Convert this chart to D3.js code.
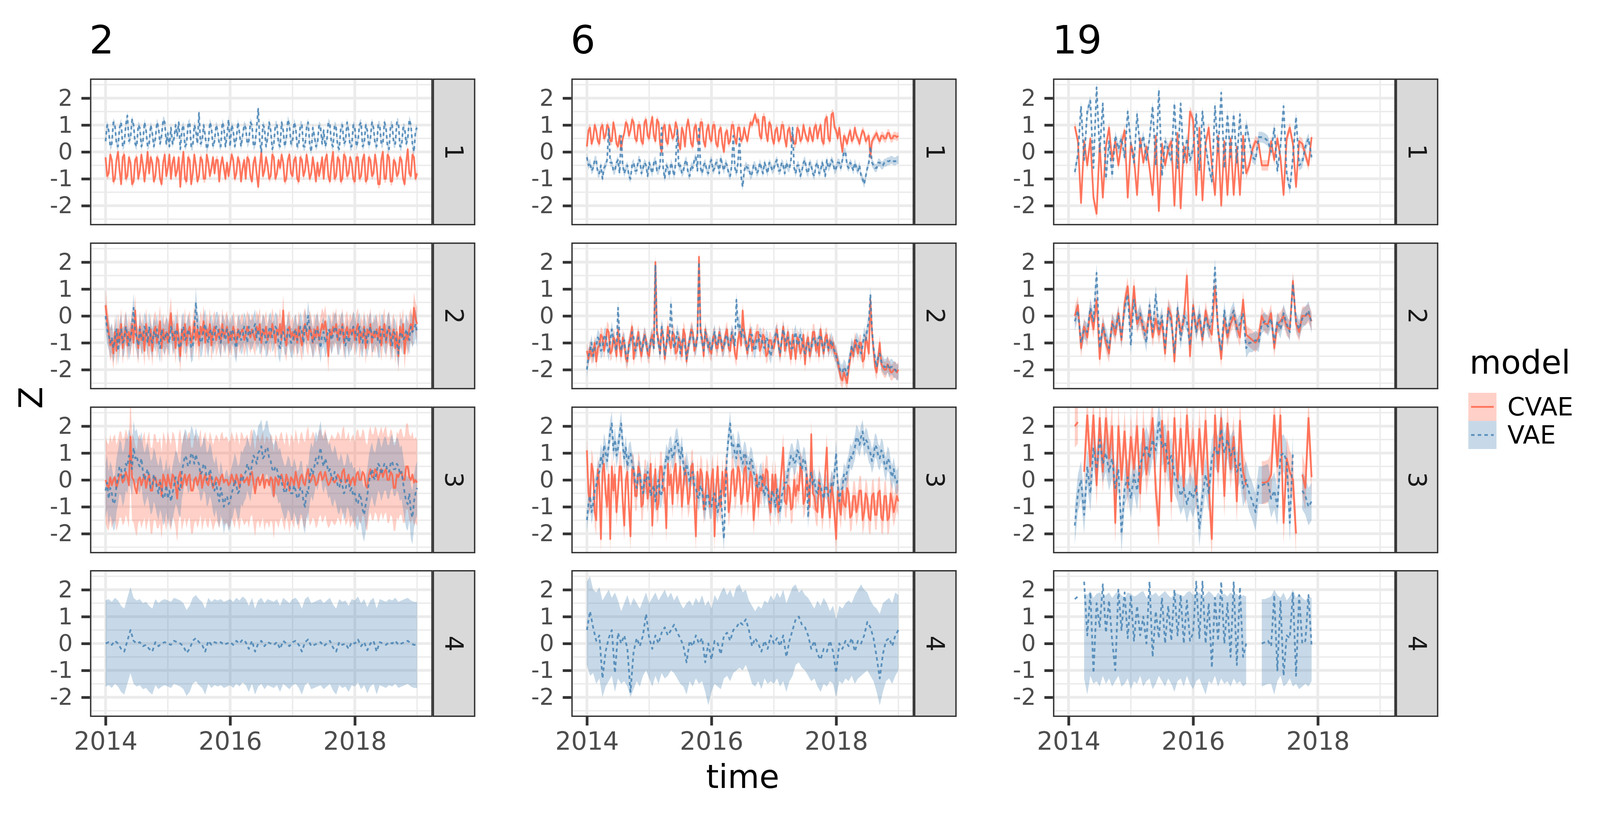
<!DOCTYPE html>
<html>
<head>
<meta charset="utf-8">
<script src="https://cdn.jsdelivr.net/npm/d3@7"></script>
<style>
  html, body { margin: 0; padding: 0; background: #fff; overflow: hidden; }
  svg { display: block; }
  text { font-family: "DejaVu Sans", sans-serif; }
</style>
</head>
<body>
<svg id="chart"></svg>
<script>
// ---------------- data ----------------
const groups = ["2", "6", "19"];
const dims = ["1", "2", "3", "4"];
const models = ["CVAE", "VAE"];
const yTicks = [-2, -1, 0, 1, 2];
const yMinor = [-2.5, -1.5, -0.5, 0.5, 1.5, 2.5];
const xTickYears = [2014, 2016, 2018];
const xMinorYears = [2015, 2017, 2019];
const groupStart = [2014.0, 2014.0, 2014.1];   // first sample of each group (decimal year)
const fineStep = 0.025;                        // years between samples, dense latents
const sampleStep = 0.05;                       // years between samples, other latents

// group 2 (2014.0 - 2019.0)
const g2_d1_cvae = [
  -0.2, -0.9, -0.8, -0.1, -0.3, -1.1, -1.0, -0.3, 0.0, -0.7, -1.2, -0.2, -0.1, -1.0, -0.9, -0.2, -0.4, -1.2, -1.1, -0.3,
  -0.2, -1.0, -0.7, -0.1, -0.5, -1.1, -0.6, 0.0, -0.8, -0.2, -0.4, -1.1, -0.9, -0.2, -0.3, -1.0, -1.2, -0.4, -0.1, -0.9,
  -0.6, -0.1, -1.0, -0.4, -0.2, -0.9, -0.7, -0.2, -1.3, -0.5, 0.0, -1.0, -1.1, -0.2, -0.3, -1.2, -0.8, -0.1, -0.5, -1.1,
  -0.9, -0.2, -0.3, -1.0, -1.0, -0.1, -0.4, -0.9, -0.6, -0.2, -0.8, -0.3, -0.3, -1.1, -0.5, -0.2, -0.6, -1.0, -0.4, -0.9,
  -0.5, -0.1, -0.3, -1.0, -0.8, -0.2, -0.4, -1.1, -0.6, -0.3, -1.0, -0.2, -0.3, -0.9, -1.1, -0.4, -0.2, -0.8, -1.3, -0.5,
  0.0, -0.9, -0.7, -0.2, -0.5, -1.0, -0.9, -0.1, -0.2, -1.0, -0.8, -0.3, -0.6, -0.1, -0.4, -1.1, -1.0, -0.3, -0.1, -0.8,
  -0.9, -0.3, -0.2, -1.0, -1.1, -0.2, -0.3, -0.9, -0.7, -0.1, -0.5, -1.0, -0.8, -0.2, -0.6, -1.1, -0.4, -0.9, -0.6, -0.2,
  -1.0, -0.3, -0.1, -0.9, -1.1, -0.4, 0.0, -1.0, -0.9, -0.2, -0.3, -1.1, -1.0, -0.1, -0.2, -0.9, -0.8, -0.2, -0.4, -1.0,
  -1.1, -0.2, -0.2, -1.0, -0.9, -0.3, -0.1, -1.1, -1.0, -0.2, -0.3, -0.9, -0.8, -0.1, -0.5, -1.2, -1.2, -0.3, 0.0, -1.0,
  -1.0, -0.1, -0.2, -1.1, -1.1, -0.3, -0.4, -0.9, -0.8, -0.2, -0.3, -1.0, -1.2, -0.4, 0.1, -0.8, -0.9, -0.1, -0.2, -1.0,
  -0.8];
const g2_d1_vae = [
  0.4, 1.0, 0.8, 0.2, 0.3, 1.1, 1.0, 0.3, 0.2, 0.9, 1.1, 0.2, 0.3, 1.0, 1.35, 0.4, 0.5, 1.2, 1.0, 0.3,
  0.2, 1.0, 0.9, 0.2, 0.4, 1.1, 0.8, 0.2, 0.3, 1.0, 0.7, 0.2, 0.5, 1.1, 0.9, 0.3, 0.6, 1.2, 1.1, 0.3,
  0.7, 0.2, 0.9, 0.3, 0.5, 1.0, 0.6, 1.1, 0.1, 0.8, 1.0, 0.2, 0.3, 1.0, 1.1, 0.2, 0.2, 1.0, 0.8, 0.3,
  1.45, 0.3, 0.4, 1.0, 0.6, 0.1, 0.3, 1.1, 0.9, 0.2, 0.4, 1.0, 0.8, 0.3, 0.2, 1.1, 0.9, 0.2, 0.6, 1.2,
  0.2, 1.0, 0.8, 0.2, 0.5, 1.1, 0.7, 0.2, 0.6, 1.0, 0.9, 0.3, 0.4, 1.1, 1.0, 0.2, 0.3, 0.9, 1.6, 0.4,
  0.0, 1.0, 0.9, 0.2, 0.5, 1.1, 0.8, 0.1, 0.3, 1.0, 1.0, 0.3, 0.2, 1.1, 0.8, 0.2, 0.5, 1.2, 1.0, 0.3,
  0.4, 1.1, 0.9, 0.2, 0.3, 1.0, 1.0, 0.2, 0.2, 0.9, 1.1, 0.3, 0.0, 0.9, 0.6, 0.2, 0.3, 1.0, 0.9, 0.3,
  0.8, 0.2, 0.4, 1.1, 1.0, 0.3, 0.2, 1.0, 0.9, 0.2, 0.1, 0.9, 1.0, 0.3, 0.4, 1.1, 0.8, 0.2, 0.2, 1.0,
  0.9, 0.2, 0.4, 1.0, 1.1, 0.2, 0.3, 1.0, 0.8, 0.2, 0.5, 1.1, 0.9, 0.3, 0.2, 1.0, 1.0, 0.3, 0.3, 1.1,
  0.9, 0.2, 0.1, 1.0, 1.0, 0.3, 0.3, 1.1, 1.1, 0.2, 0.2, 0.9, 0.9, 0.3, 0.5, 1.2, 1.0, 0.3, 0.0, 0.8,
  0.9];
const g2_d2_cvae = [
  0.4, -0.2, -0.6, -1.1, -0.9, -1.4, -0.6, -1.3, -0.5, -1.0, -0.3, -1.2, -0.7, -0.4, -1.1, -0.6, -0.9, -0.3, -1.0, 0.2,
  -0.8, -1.2, -0.4, -0.9, -0.6, -1.3, -0.3, -0.8, -1.1, -0.5, -1.3, -0.6, -0.4, -1.0, -0.7, -0.2, -1.2, -0.5, -0.9, -0.6,
  -1.0, -0.4, 0.1, -0.9, -0.6, -1.2, -0.3, -0.8, -1.5, -0.5, -0.9, -0.3, -1.1, -0.6, -0.4, -1.0, -0.7, -0.2, -0.9, -0.5,
  -1.1, -0.4, -0.7, -0.2, -1.0, -0.5, -0.8, -0.3, -1.1, -0.6, -0.4, -0.9, -0.7, -0.5, -1.0, -0.3, -0.8, -0.6, -0.4, -1.0,
  -0.6, -0.9, -0.4, -0.7, -1.0, -0.5, -0.8, -0.6, -0.5, -0.9, -0.7, -0.4, -0.6, -0.8, -0.5, -0.7, -0.9, -0.4, -0.6, -0.3,
  -1.0, -0.5, -0.7, -0.4, -0.9, -0.6, -0.8, -0.3, -0.6, -1.0, -0.5, -0.7, -0.3, -0.9, 0.2, -0.8, -1.1, -0.5, -0.4, -0.8,
  -0.6, -0.9, -0.5, -1.0, -0.4, -0.8, -1.1, -0.5, -0.3, -0.7, -0.9, -0.4, -0.6, -1.0, -0.5, -0.8, -0.4, -0.9, -0.6, -0.3,
  -0.5, -0.2, -0.7, -1.5, -0.5, -0.8, -0.4, -0.6, -0.3, -0.9, -0.5, -0.7, -0.3, -1.0, -0.6, -0.4, -0.8, -0.5, -0.7, -0.4,
  -0.9, -0.5, -0.3, -1.0, -0.6, -0.8, -0.4, -1.2, -0.5, -0.7, -0.3, -1.0, -0.6, -0.8, -0.5, -0.9, -0.4, -1.1, -0.6, -0.3,
  -1.0, -0.6, -0.4, -1.1, -0.7, -0.5, -1.2, -0.6, -1.5, -0.4, -0.8, -0.3, -1.4, -0.6, -0.9, -0.5, -0.3, -0.6, 0.3, -0.1,
  -0.3];
const g2_d2_vae = [
  0.0, -0.5, -0.7, -1.0, -0.8, -1.2, -0.9, -0.5, -1.3, -0.7, -0.5, -1.0, -0.9, -0.4, -0.7, -1.1, -0.8, -0.5, 0.3, -0.6,
  -0.8, -1.1, -0.5, -0.8, -0.9, -0.4, -0.6, -1.0, -0.4, -0.8, -1.0, -0.6, -0.8, -0.5, -0.9, -1.2, -0.5, -0.8, -0.9, -0.6,
  -0.7, -1.0, -0.4, -0.7, -0.9, -0.5, -0.6, -1.1, -1.2, -0.6, -0.4, -0.9, -0.8, -0.5, -0.7, -1.2, -1.1, -0.6, 0.5, -0.4,
  -0.6, -1.0, -0.9, -0.5, -0.3, -0.8, -1.0, -0.6, -0.5, -0.9, -0.7, -0.4, -0.4, -0.8, -1.0, -0.5, -0.6, -0.9, -0.5, -0.7,
  -0.9, -0.5, -0.6, -1.0, -1.2, -0.6, -0.5, -0.9, -0.8, -0.4, -0.6, -1.0, -0.4, -0.7, -0.7, -0.5, -0.3, -0.8, -0.5, -0.9,
  -0.8, -0.5, -0.6, -1.0, -0.9, -0.5, -0.4, -0.8, -0.7, -0.4, -0.5, -1.0, -1.2, -0.6, -0.6, -0.9, -0.9, -0.5, -0.7, -1.0,
  -1.0, -0.6, -0.5, -0.9, -0.8, -0.4, -0.6, -1.0, -0.3, -0.6, 0.0, -0.5, -0.7, -1.0, -0.9, -0.5, -0.5, -0.8, -1.2, -0.7,
  -0.6, -1.0, -0.8, -0.5, -0.6, -0.9, -0.7, -0.4, -0.5, -0.9, -0.9, -0.5, -0.4, -0.8, -1.1, -0.6, -1.0, -0.8, -0.7, -0.4,
  -0.5, -0.9, -0.6, -0.4, -0.9, -1.0, -0.5, -0.7, -1.0, -0.6, -0.4, -0.8, -0.8, -0.5, -0.6, -1.0, -1.0, -0.5, -0.5, -0.8,
  -0.9, -0.5, -0.4, -0.8, -1.1, -0.6, -0.7, -1.0, -1.4, -0.7, -0.6, -0.9, -0.8, -0.5, -0.7, -0.9, -0.4, -0.6, -0.5, -0.3,
  -0.6];
const g2_d3_cvae = [
  0.0, -0.2, -0.3, 0.1, -0.2, 0.0, 0.1, -0.3, -0.1, 0.2, 0.2, -0.1, 0.0, 0.3, 0.1, -0.2, 1.6, 0.1, 0.0, -0.3,
  -0.5, 0.0, 0.1, -0.2, 0.0, 0.2, -0.3, 0.0, 0.2, -0.4, -0.4, 0.1, 0.1, -0.2, -0.2, 0.0, -0.6, 0.2, 0.0, -0.3,
  0.2, -0.1, -0.3, 0.2, 0.1, -0.2, -0.7, 0.1, 0.3, -0.3, 0.0, 0.2, -0.2, 0.1, 0.2, -0.4, -0.4, 0.0, 0.1, -0.2,
  0.0, 0.3, -0.3, 0.0, 0.2, -0.1, -0.2, 0.2, 0.0, -0.3, -0.1, 0.1, 0.0, -0.2, 0.1, 0.2, -0.1, 0.0, 0.0, -0.2,
  -0.1, 0.2, 0.0, -0.2, 0.2, 0.0, -0.3, 0.2, 0.1, -0.1, 0.0, 0.1, -0.2, 0.2, 0.3, -0.1, -0.5, 0.0, 0.1, -0.2,
  0.0, 0.2, -0.3, 0.0, 0.0, -0.2, 0.1, 0.0, -0.6, 0.1, 0.0, -0.2, 0.1, 0.2, -0.1, -0.3, 0.2, 0.0, -0.4, 0.1,
  0.0, -0.2, 0.3, 0.0, -0.3, 0.1, 0.2, -0.1, -0.2, 0.2, 0.4, -0.1, 0.0, 0.2, 0.1, -0.2, -0.1, 0.2, 0.3, 0.0,
  0.1, 0.3, 0.0, -0.2, -0.1, 0.1, 0.0, -0.1, 0.0, 0.2, 0.1, -0.1, 0.3, 0.4, -0.1, 0.0, 0.2, -0.2, 0.0, 0.1,
  -0.2, 0.2, 0.3, 0.0, 0.0, 0.3, 0.2, -0.2, -0.3, 0.2, 0.4, 0.1, 0.1, 0.4, 0.3, 0.0, 0.2, 0.4, 0.1, 0.3,
  0.4, 0.0, 0.0, 0.3, 0.2, -0.3, -0.3, 0.2, 0.1, 0.3, 0.3, 0.0, 0.0, 0.5, 0.5, 0.1, 0.0, 0.2, -0.1, 0.0,
  -0.1];
const g2_d3_vae = [
  -0.4, -0.1, -0.7, -0.3, -0.5, -0.9, -0.8, -0.2, 0.1, 0.5, 0.4, 0.0, 0.2, 0.6, 0.5, 0.9, 0.7, 0.4, 1.2, 0.8,
  0.9, 0.6, 0.5, 0.8, 0.3, 0.0, 0.2, 0.4, 0.1, -0.3, -0.2, 0.2, 0.0, -0.3, -0.5, -0.1, -0.3, -0.7, -0.6, -0.2,
  -0.7, -0.4, -0.8, -0.5, -0.2, 0.1, 0.0, -0.3, -0.4, 0.3, 0.6, 0.9, 0.8, 0.5, 0.6, 1.0, 0.9, 0.6, 0.95, 0.7,
  0.6, 0.2, 0.3, 0.6, 0.5, 0.0, 0.1, 0.4, 0.2, -0.2, -0.4, -0.1, -0.5, -0.8, -0.3, -0.6, -1.0, -0.7, -0.6, -0.9,
  -0.8, -0.5, -0.3, 0.0, -0.2, -0.5, -0.4, 0.1, 0.0, 0.2, 0.3, 0.6, 0.4, 0.2, 0.6, 0.9, 0.8, 0.6, 1.0, 1.1,
  1.25, 0.8, 0.9, 1.2, 1.2, 0.8, 0.7, 0.4, 0.3, 0.5, 0.4, 0.1, 0.2, -0.1, -0.3, -0.5, -0.4, -0.1, -0.2, -0.5,
  -0.5, -0.2, -0.4, -0.7, -0.6, -0.3, -0.3, -0.8, -1.0, -0.4, -0.5, 0.1, 0.4, 0.2, 0.5, 0.8, 0.6, 0.9, 1.2, 0.7,
  0.5, 0.8, 0.6, 0.3, 0.4, 0.1, 0.0, 0.3, 0.1, -0.2, -0.3, 0.0, -0.2, -0.5, -0.4, 0.0, -0.1, -0.4, -0.3, -0.6,
  -0.5, -0.8, -0.9, -0.5, -0.7, -1.1, -1.3, -0.9, -0.6, -0.1, 0.2, 0.4, 0.1, 0.0, 0.3, 0.6, 0.5, 0.2, 0.4, 0.6,
  0.6, 0.3, 0.3, 0.6, 0.7, 0.4, 0.4, 0.6, 0.5, 0.2, 0.3, -0.1, -0.5, -0.8, -0.9, -0.5, -1.2, -1.4, -0.8, -0.5,
  -0.3];
const g2_d4_vae = [
  0.0, 0.05, -0.05, 0.1, 0.0, -0.2, -0.3, 0.1, 0.5, 0.1, 0.0, 0.05, -0.1, -0.05, -0.2, -0.3, 0.05, -0.1, 0.0, 0.05,
  0.0, -0.05, 0.1, 0.05, 0.0, -0.1, -0.35, -0.2, 0.1, 0.2, 0.05, -0.05, -0.3, 0.1, -0.05, 0.05, 0.0, 0.05, -0.05, 0.0,
  0.05, -0.05, 0.1, 0.0, 0.15, 0.05, -0.2, 0.1, -0.3, 0.0, 0.1, -0.1, 0.05, 0.0, -0.05, 0.05, -0.2, 0.1, 0.0, -0.1,
  0.05, 0.1, -0.05, -0.3, 0.05, 0.15, -0.1, -0.05, 0.0, 0.05, -0.1, 0.0, 0.1, -0.15, -0.3, 0.05, -0.05, 0.0, -0.2, 0.05,
  0.0, 0.15, -0.1, 0.05, -0.25, 0.0, 0.1, -0.3, 0.05, 0.0, -0.05, 0.05, 0.0, 0.1, -0.05, 0.0, 0.05, 0.1, 0.0, -0.05,
  -0.05];

// group 6 (2014.0 - 2019.0)
const g6_d1_cvae = [
  0.2, 0.8, 0.9, 0.3, 0.5, 1.0, 0.8, 0.4, 0.3, 0.9, 1.0, 0.5, 0.6, 1.0, 0.9, 0.4, 0.4, 1.1, 0.8, 0.3,
  0.2, 0.6, 0.1, 0.5, 0.7, 1.1, 1.0, 0.6, 0.8, 1.2, 1.1, 0.5, 0.4, 1.0, 1.0, 0.4, 0.3, 1.1, 1.2, 0.6,
  0.5, 1.0, 1.3, 0.6, 0.4, 1.2, 1.1, 0.3, 0.0, 0.9, 1.0, 0.4, 0.3, 1.0, 0.8, 0.5, 0.6, 1.1, 0.9, 0.3,
  0.1, 0.9, 0.7, 0.2, 0.9, 1.2, 0.8, 0.3, 0.2, 0.9, 1.0, 0.4, 0.3, 1.1, 1.1, 0.4, 0.2, 0.8, 1.0, 0.5,
  0.4, 1.0, 1.0, 0.3, 0.2, 0.8, 0.9, 0.3, 0.0, 0.7, 0.8, 0.3, 0.4, 1.0, 1.0, 0.5, 0.3, 0.9, 0.9, 0.4,
  0.5, 0.9, 0.6, 0.4, 0.8, 1.1, 1.0, 1.2, 1.4, 1.1, 1.2, 0.6, 0.5, 1.3, 1.3, 0.7, 0.4, 1.1, 1.0, 0.5,
  0.3, 0.8, 0.9, 0.4, 0.5, 1.0, 1.0, 0.5, 0.2, 0.8, 0.9, 0.4, 0.6, 0.3, 0.3, 0.9, 0.8, 0.4, 0.5, 1.0,
  0.7, 0.5, 0.4, 0.9, 0.6, 0.4, 0.9, 1.0, 0.5, 0.8, 1.0, 0.4, 0.3, 1.2, 1.3, 0.5, 0.4, 1.4, 1.45, 0.9,
  0.8, 0.5, 0.9, 0.4, 0.0, 0.6, 0.5, 0.3, 0.6, 0.8, 0.4, 0.5, 0.9, 0.6, 0.5, 0.3, 0.6, 0.8, 0.7, 0.4,
  0.5, 0.6, -0.2, 0.4, 0.5, 0.6, 0.7, 0.5, 0.4, 0.6, 0.6, 0.5, 0.5, 0.7, 0.7, 0.5, 0.5, 0.6, 0.6, 0.55,
  0.6];
const g6_d1_vae = [
  -0.2, -0.5, -0.4, -0.7, -0.6, -0.3, -0.3, -0.8, -0.8, -0.5, -1.0, -0.6, -0.5, -0.3, 0.85, -0.4, -0.4, -0.7, -0.7, -0.4,
  -0.3, -0.8, 0.6, -0.5, -0.8, -0.6, -0.5, -0.9, -1.0, -0.5, -0.4, -0.7, -0.7, -0.3, -0.3, -0.8, -0.6, -0.4, -0.5, -0.9,
  -0.4, -0.6, -0.8, -0.4, -0.3, -0.7, -0.7, -0.5, 0.9, -0.6, -1.0, -0.5, -0.6, -0.9, -0.4, -0.6, -0.9, -0.4, 0.85, -0.6,
  -0.5, -0.8, -0.7, -0.4, -0.3, -0.8, -0.9, -0.5, -0.6, -0.3, -0.2, -0.7, 0.95, -0.6, -0.8, -0.5, -0.4, -0.7, -0.8, -0.4,
  -0.3, -0.7, -0.6, -0.4, -0.4, -0.8, -0.2, -0.5, -0.7, -0.4, -0.5, -0.8, -0.9, -0.5, 0.6, -0.6, -0.8, -0.4, 0.5, -0.9,
  -1.3, -0.7, -0.5, -0.6, -0.6, -0.9, -0.8, -0.5, -0.5, -0.8, -0.7, -0.4, -0.6, -0.8, -0.4, -0.6, -0.8, -0.4, -0.5, -0.7,
  -0.6, -0.4, -0.3, -0.7, -0.7, -0.4, -0.5, -0.8, -0.4, -0.6, -0.6, -0.3, 0.9, -0.6, -0.8, -0.5, -0.5, -0.9, -0.7, -0.4,
  -0.3, -0.7, -0.8, -0.4, -0.5, -0.8, -0.9, -0.5, -0.4, -0.8, -0.7, -0.4, -0.6, -0.9, -0.3, -0.6, -0.5, -0.3, -0.4, -0.7,
  -0.6, -0.4, -0.4, -0.6, -0.3, 0.0, 0.0, -0.5, -0.6, -0.4, -0.5, -0.7, -0.4, -0.6, -0.7, -0.5, -0.9, -1.0, -1.2, -0.9,
  -0.6, -0.4, 0.2, -0.4, -0.5, -0.6, -0.6, -0.4, -0.4, -0.5, -0.5, -0.4, -0.4, -0.35, -0.35, -0.3, -0.3, -0.35, -0.35, -0.3,
  -0.3];
const g6_d2_cvae = [
  -1.3, -1.6, -1.2, -1.5, -1.4, -1.0, -1.7, -1.2, -1.1, -0.7, -0.8, -1.3, -1.0, -0.5, -0.6, -1.4, -1.3, -0.8, -0.9, -1.5,
  -0.5, -1.2, -1.5, -0.8, -1.0, -1.6, -1.7, -1.0, -0.8, -0.4, -1.6, -1.2, -1.0, -0.6, -1.2, -1.5, -1.0, -0.7, -0.9, -1.4,
  -1.5, -0.9, -0.7, -1.2, 2.0, -0.6, -0.9, -1.4, -0.5, -0.8, -1.6, -1.1, -0.4, -0.9, -1.2, -0.6, -0.7, -1.4, -1.3, -0.8,
  -1.0, -1.5, -0.5, -0.7, -1.7, -1.2, -0.9, -0.5, -0.6, -1.3, -1.1, -0.7, 2.2, -0.6, -0.8, -1.5, -0.5, -0.9, -1.0, -1.3,
  -1.4, -0.8, -0.7, -1.2, -1.2, -0.6, -0.9, -1.3, -1.1, -0.7, -0.5, -1.2, -1.3, -0.7, -0.8, -1.4, -1.6, -0.9, -0.6, -1.1,
  0.2, -0.6, -1.0, -1.4, -0.8, -0.5, -1.3, -1.0, -0.9, -0.6, -0.6, -1.3, -1.1, -0.7, -0.8, -1.5, -1.4, -0.9, -0.9, -1.2,
  -1.2, -0.8, -0.5, -1.1, -1.5, -0.9, -0.4, -1.3, -1.0, -0.6, -1.3, -1.6, -0.7, -1.1, -1.6, -0.8, -0.9, -1.4, -1.2, -0.7,
  -1.8, -1.0, -0.8, -1.5, -1.2, -0.6, -0.6, -1.3, -1.0, -1.5, -0.5, -1.0, -1.4, -0.8, -0.7, -1.3, -0.9, -1.2, -1.0, -1.4,
  -1.4, -1.7, -2.0, -2.3, -2.4, -2.1, -2.3, -2.5, -2.0, -1.6, -1.2, -1.5, -0.9, -1.1, -1.4, -1.0, -1.0, -1.7, -1.6, -0.8,
  -1.0, -1.4, 0.6, -0.6, -1.3, -1.9, -2.1, -1.6, -1.0, -1.8, -1.9, -2.0, -2.0, -1.8, -1.9, -2.1, -2.1, -2.0, -2.0, -2.1,
  -2.0];
const g6_d2_vae = [
  -2.0, -1.5, -1.3, -1.0, -1.5, -1.2, -1.1, -0.8, -0.9, -1.3, -1.2, -0.8, -0.7, -1.1, -1.4, -0.9, -0.5, -0.9, -1.1, -1.3,
  0.3, -0.8, -1.3, -1.0, -0.9, -1.4, -1.6, -1.1, -1.0, -0.6, -0.8, -1.3, -1.2, -0.8, -0.9, -1.3, -1.1, -0.7, -1.0, -1.3,
  -1.3, -0.9, -0.8, -1.2, 1.9, -0.7, -1.0, -1.4, -0.4, -0.7, -1.5, -1.1, -0.7, -0.9, 0.5, -0.8, -1.2, -1.0, -0.6, -0.9,
  -1.4, -1.0, -0.8, -1.1, -1.6, -1.2, -0.9, -0.6, -0.7, -1.1, -1.2, -0.8, 2.0, -0.7, -0.9, -1.3, -0.6, -0.8, -1.2, -1.0,
  -1.3, -0.9, -0.6, -1.0, -1.1, -0.7, -0.8, -1.2, -1.2, -0.8, -0.7, -1.1, -1.0, -0.6, -0.8, -1.1, 0.6, -0.4, -0.3, -0.8,
  -0.5, -0.8, -0.9, -1.3, -1.1, -0.7, -0.7, -1.2, -1.3, -0.9, -1.0, -0.7, -0.8, -1.1, -1.2, -0.8, -0.9, -1.3, -1.5, -1.1,
  -1.0, -0.7, -0.6, -1.1, -1.4, -0.9, -0.5, -0.8, -1.1, -0.8, -0.9, -1.2, -1.2, -0.8, -0.6, -1.1, -1.0, -0.7, -0.9, -1.2,
  -1.4, -1.1, -1.0, -1.3, -1.2, -0.9, -0.8, -1.1, -1.1, -0.8, -0.7, -1.1, -1.3, -0.9, -0.9, -1.2, -1.1, -0.9, -1.2, -1.3,
  -1.5, -1.7, -1.9, -2.1, -2.1, -1.9, -2.0, -2.2, -1.8, -1.5, -1.1, -1.3, -1.2, -0.9, -1.0, -1.2, -1.4, -1.1, -0.7, -0.9,
  -0.5, -0.2, 0.8, -0.5, -1.2, -1.6, -1.9, -1.5, -1.4, -1.7, -1.8, -1.9, -1.9, -1.8, -2.0, -1.9, -1.9, -2.0, -2.0, -2.1,
  -2.1];
const g6_d3_cvae = [
  1.1, -0.5, -0.8, 0.6, 0.3, -1.2, -1.5, 0.4, -0.2, -2.2, 0.3, 0.6, -0.5, -1.0, 0.2, -2.2, 0.5, -0.4, 0.2, -1.2,
  -0.4, 0.5, 0.5, -0.8, -1.7, 0.0, 0.3, -1.0, -2.1, 0.4, 0.4, -0.6, -0.6, 0.5, 0.3, -1.0, -0.9, 0.2, 0.2, -0.7,
  -0.2, 0.6, -1.7, -0.4, 0.4, -1.1, -0.9, 0.5, 0.5, -0.4, -0.3, -1.8, 0.6, -0.2, 0.2, -0.9, 0.3, 0.6, -0.5, -0.2,
  0.5, -1.0, -0.2, 0.4, 0.1, -0.9, -0.6, 0.5, 0.6, -0.8, -2.1, 0.3, -0.4, 0.4, 0.2, -1.1, -0.7, 0.3, 0.0, -1.0,
  0.0, 0.4, -2.1, -0.3, 0.5, -0.8, -1.0, 0.3, -0.6, 0.4, 0.2, -1.2, -0.8, 0.3, 0.4, -0.6, -0.3, 0.5, 0.3, -0.9,
  -0.6, 0.4, 0.5, -0.8, -0.4, 0.3, 0.1, -1.5, -0.8, 0.2, -1.0, -0.3, -0.4, 0.2, -0.2, 0.4, 0.3, -0.9, -1.2, 0.2,
  -0.5, 0.2, -0.8, -1.2, -0.3, 0.4, 1.2, -0.8, -0.9, -0.2, -0.3, -1.1, -1.0, 0.0, -0.6, -0.2, -0.4, 0.5, 0.3, -0.9,
  -0.7, 0.2, -0.3, -1.0, 1.7, -0.5, -0.6, -1.1, -1.2, 0.0, -0.4, -1.4, -0.9, 0.3, 1.2, -0.8, -1.4, -0.2, -0.6, -1.3,
  -2.2, -0.4, -0.8, -1.3, -0.4, -0.9, -1.0, -0.3, -0.5, -1.4, -1.3, -0.6, -0.6, -1.2, -0.9, -0.4, -0.4, -1.5, -1.2, -0.5,
  -0.7, -1.4, -1.5, -0.6, -0.5, -1.3, -1.3, -0.5, -0.4, -1.4, -1.5, -0.6, -0.6, -1.5, -1.4, -0.5, -0.8, -1.2, -0.9, -0.6,
  -0.8];
const g6_d3_vae = [
  -1.5, -0.9, -0.6, -1.2, -0.9, -0.4, -0.2, 0.2, 0.3, 0.9, 0.6, 1.3, 1.0, 0.7, 1.3, 1.8, 2.1, 1.1, 1.5, 0.9,
  1.2, 1.7, 2.1, 1.3, 0.8, 1.2, 0.5, 0.9, 1.0, 0.6, 0.4, -0.1, -0.3, 0.3, 0.2, -0.2, -0.5, 0.0, -0.1, 0.3,
  0.0, -0.6, -0.4, -0.2, -0.8, -0.3, 0.0, -0.6, -0.5, 0.1, 0.4, 0.9, 0.7, 1.1, 1.2, 0.8, 1.0, 1.4, 1.5, 1.1,
  0.8, 1.2, 0.5, 0.2, 0.6, 0.3, -0.1, 0.2, 0.3, -0.2, -0.3, -0.6, -0.7, -0.2, -0.4, -0.9, -1.1, -0.5, -0.6, -1.0,
  -1.0, -0.6, -0.5, -0.9, -1.2, -0.7, -0.4, -1.5, -2.2, -0.5, 1.0, 1.6, 2.1, 1.2, 1.3, 1.0, 0.8, 1.4, 1.2, 0.8,
  0.6, 1.0, 0.9, 0.5, 0.4, 0.8, 0.7, 0.3, 0.1, -0.2, -0.3, 0.1, 0.2, -0.3, -0.6, -0.2, -0.4, -0.8, -0.9, -0.4,
  -0.6, -1.0, -0.3, -0.7, -1.2, -0.6, -0.4, -0.1, -0.1, 0.3, 0.6, 0.9, 0.9, 0.6, 0.7, 1.1, 1.0, 0.6, 0.4, 0.8,
  0.7, 0.2, -1.4, -0.1, 0.3, -0.2, 0.0, -0.4, -0.5, -0.1, -0.2, -0.5, -0.7, -0.2, -0.3, -0.6, -0.5, -0.1, -0.2, 0.3,
  1.0, -0.2, -0.8, -0.4, -0.3, 0.2, 0.0, 0.3, 0.5, 0.9, 0.8, 1.0, 1.2, 1.6, 1.5, 1.3, 1.6, 1.8, 1.3, 1.5,
  1.4, 1.1, 1.0, 0.7, 0.9, 1.3, 1.2, 0.9, 0.8, 1.1, 1.0, 0.6, 0.4, 0.8, 0.7, 0.3, 0.1, 0.4, 0.0, -0.1,
  0.1];
const g6_d4_vae = [
  0.5, 1.2, 0.6, 0.1, 0.3, -1.3, -0.3, 0.2, 0.5, -1.1, 0.4, 0.0, 0.3, -0.2, -1.8, -0.3, 0.2, -0.1, 0.3, 1.1,
  0.2, -0.2, 0.3, 0.0, 0.4, 0.6, 0.3, 0.5, 0.7, 0.4, 0.2, -0.1, -0.7, 0.1, -0.1, 0.3, 0.0, 0.2, -0.7, 0.0,
  -0.6, 0.1, 0.0, -0.4, 0.3, 0.4, 0.1, 0.5, 0.6, 0.8, 0.7, 0.9, 0.5, -0.1, 0.2, 0.0, -0.3, 0.1, -0.2, 0.3,
  0.0, 0.2, -0.1, 0.3, -0.5, 0.1, 0.5, 0.9, 1.0, 0.7, 0.6, 0.3, -0.2, 0.1, -0.4, -0.6, -0.2, -0.3, 0.1, -0.3,
  -1.1, 0.0, -0.2, 0.1, -0.1, 0.2, -0.3, 0.1, 0.0, 0.3, 0.8, 0.6, 0.2, -0.5, -1.3, -0.4, 0.1, 0.2, -0.1, 0.3,
  0.5];
// interval of this latent, read directly (it does not follow the mean)
const g6_d4_vae_lo = [
  -0.8, -1.2, -1.1, -1.5, -1.3, -2.0, -1.6, -1.4, -1.2, -1.8, -1.3, -1.5, -1.4, -1.6, -2.0, -1.7, -1.4, -1.6, -1.2, -1.0,
  -1.3, -1.6, -1.2, -1.5, -1.1, -1.3, -1.2, -1.0, -1.1, -1.3, -1.5, -1.6, -1.9, -1.4, -1.6, -1.3, -1.5, -1.4, -1.8, -2.3,
  -1.8, -1.5, -1.6, -1.7, -1.3, -1.2, -1.4, -1.1, -1.0, -0.9, -1.0, -0.8, -1.1, -1.5, -1.6, -1.4, -1.7, -1.3, -1.5, -1.4,
  -1.5, -1.3, -1.6, -1.4, -1.8, -1.4, -1.2, -0.8, -0.7, -0.9, -1.0, -1.2, -1.4, -1.3, -1.6, -1.8, -1.5, -1.6, -1.4, -1.5,
  -2.0, -1.4, -1.5, -1.3, -1.4, -1.2, -1.5, -1.3, -1.2, -1.1, -1.0, -1.2, -1.4, -1.8, -2.3, -1.8, -1.4, -1.3, -1.5, -1.2,
  -1.0];
const g6_d4_vae_hi = [
  2.3, 2.5, 2.0, 1.9, 2.1, 1.6, 1.8, 2.0, 1.7, 1.9, 1.6, 1.2, 1.5, 1.8, 1.4, 1.7, 1.5, 1.3, 1.6, 1.9,
  1.5, 1.7, 1.9, 1.6, 1.8, 2.0, 1.7, 1.9, 1.6, 1.8, 1.5, 1.3, 1.5, 1.6, 1.4, 1.7, 1.5, 1.8, 1.4, 1.6,
  1.3, 1.8, 1.6, 1.9, 2.1, 1.8, 2.0, 1.7, 2.1, 2.2, 1.9, 2.0, 1.6, 1.4, 1.2, 1.4, 1.3, 1.6, 1.5, 1.8,
  1.6, 1.9, 1.7, 2.0, 1.5, 1.8, 2.1, 2.2, 1.9, 2.0, 1.8, 1.7, 1.5, 1.3, 1.6, 1.4, 1.7, 1.5, 1.2, 1.4,
  0.9, 1.4, 1.3, 1.5, 1.6, 1.5, 1.8, 2.0, 2.2, 2.0, 1.9, 1.6, 1.4, 1.3, 1.1, 1.5, 1.6, 1.7, 1.5, 1.9,
  1.8];

// group 19 (2014.1 - 2017.9, null = missing)
const g19_d1_cvae = [
  0.95, 0.4, -1.9, 0.4, -0.5, 0.5, -1.7, -2.3, 0.3, -1.7,
  0.2, 0.9, -0.3, 0.4, -0.5, 0.3, 0.8, -1.7, 0.3, -0.2,
  -1.6, 0.5, -0.4, 0.2, -0.6, -1.6, 0.6, -2.2, 0.3, -0.5,
  0.1, 0.4, -2.0, 0.7, -2.1, 0.2, -0.4, 1.5, 1.2, -1.6,
  0.9, -1.8, 0.3, 0.9, -0.5, -1.6, 0.6, -2.0, 0.4, -1.6,
  0.5, -1.6, 0.2, -1.6, 0.6, -0.8, -0.5, 0.1, 0.4, 0.3,
  -0.5, -0.5, -0.5, 0.4, -0.3, 0.5, -0.2, -1.6, 0.5, 0.9,
  0.3, -1.3, 0.4, 0.3, -0.1, -0.5, 0.55];
const g19_d1_vae = [
  -0.75, -0.1, 1.7, -0.3, 1.5, 1.9, -0.6, 2.4, 0.0, 1.8,
  -1.0, 0.4, -0.9, 0.6, 0.1, 0.5, -0.2, 1.5, 0.3, -0.4,
  1.4, 0.1, 0.6, -0.3, 0.5, 1.7, -0.5, 2.3, -0.9, 0.4,
  0.1, -0.3, 1.8, -0.6, 1.8, -0.4, 0.5, -0.3, 0.1, 1.4,
  -0.7, 1.5, 0.2, -0.5, -1.1, 1.7, 0.0, 2.2, -0.6, 1.4,
  -0.2, 1.4, -0.4, 1.4, -0.8, 1.05, 0.4, -0.2, -0.3, 0.55,
  0.55, 0.5, 0.4, 0.0, 0.9, -0.7, 0.2, 1.7, -0.8, -1.4,
  -0.2, 1.3, -0.5, -0.4, 0.2, 0.5, -0.2];
const g19_d2_cvae = [
  0.0, 0.4, -1.2, -0.4, -0.8, 0.2, -0.5, 0.6, -1.6, -0.3,
  -1.0, -1.4, -0.2, -0.7, 0.1, -0.9, 0.5, 1.1, -0.4, 1.1,
  -0.3, 0.0, -0.5, -0.6, 0.2, -0.8, -0.1, -0.7, -0.2, -1.4,
  0.3, 0.0, -1.7, 0.2, -0.6, -0.2, 1.5, -1.5, 0.4, -0.5,
  -0.1, -0.9, 0.2, -0.4, -0.7, 1.1, -0.5, -1.6, -0.1, -0.8,
  -0.3, 0.0, -0.4, -0.8, 0.6, -0.7, -0.8, -0.9, -1.0, -0.8,
  0.0, -0.3, -0.3, 0.1, -1.2, -0.3, -0.2, 0.0, -0.4, -0.5,
  1.3, -0.3, -0.6, 0.0, 0.0, 0.1, -0.2];
const g19_d2_vae = [
  -0.2, 0.2, -1.0, -0.5, -0.6, 0.3, -0.2, 1.6, -1.2, -0.4,
  -0.8, -1.2, -0.3, -0.5, 0.0, -0.8, 0.3, 0.8, -1.1, 0.6,
  -0.2, 0.1, -0.4, -1.0, 0.4, -0.6, 0.8, -0.5, 0.0, -1.2,
  0.2, -0.2, -1.4, 0.3, -0.9, 0.0, -0.2, -1.1, 0.3, -0.6,
  0.1, -0.8, 0.0, -0.5, -0.2, 1.8, -0.6, -1.3, 0.2, -0.7,
  -0.1, 0.2, -0.5, -0.3, 0.1, -1.2, -1.0, -1.0, -0.9, -1.0,
  -0.3, -0.2, -0.4, -0.1, -1.0, -0.2, -0.5, 0.1, -0.3, -0.6,
  1.2, -0.2, -0.5, -0.1, 0.0, 0.2, -0.3];
const g19_d3_cvae = [
  2.0, 2.15, null, 0.3, 2.4, 0.5, 2.4, -0.2, 2.3, 0.3,
  2.3, 0.8, 2.0, -1.6, 2.0, 0.0, 1.8, -0.3, 1.6, 0.4,
  2.0, -0.5, 1.9, 0.2, 1.2, 2.3, -0.4, -1.7, 2.2, 0.3,
  1.8, -0.8, 2.3, 0.0, 1.9, -0.3, 2.4, 0.5, 1.5, -0.5,
  1.9, 0.2, 2.2, -0.2, -2.2, 2.4, 0.3, 2.3, -0.6, 2.1,
  0.4, 1.6, -0.8, 2.2, 0.3, -0.2, null, null, null, null,
  -0.1, -0.1, -0.05, 0.2, 2.4, 0.5, 2.4, -1.6, 0.8, 0.3,
  0.0, -2.0, null, 0.2, -0.3, 2.3, 0.1];
const g19_d3_vae = [
  -1.7, -0.5, 0.0, -1.3, 0.5, -0.5, 1.2, 0.4, 1.5, 0.6,
  1.0, 0.3, 0.8, -0.3, 0.4, -2.0, -0.3, 0.1, -0.7, 0.2,
  -0.4, 0.6, 0.9, 1.3, 0.8, 1.5, 1.1, 2.2, 1.2, 1.4,
  0.6, 0.9, 0.2, -0.1, -0.6, -0.3, -0.9, -0.4, -0.7, -0.2,
  -1.8, -0.6, 0.2, -0.5, 0.8, 1.2, 0.9, 1.9, 1.0, 1.5,
  0.9, 1.2, 0.3, 0.6, -0.3, 0.0, -0.5, -0.8, -1.2, -0.2,
  -0.2, -0.15, -0.1, -0.7, -0.4, -1.0, 0.9, 1.0, 0.7, -1.6,
  1.0, null, null, -0.4, -0.6, -1.0, -0.8];
const g19_d4_vae = [
  1.65, 1.75, null, 2.3, 0.3, 1.9, -1.1, 1.5, 0.6, 2.2,
  0.4, 1.6, 0.1, -1.0, 2.0, 0.5, 1.9, 0.2, 1.8, 0.1,
  1.4, 0.3, 1.0, 0.0, 2.3, -0.5, 1.2, 0.2, 1.7, 0.0,
  1.4, 0.1, 2.0, 0.3, 1.8, 0.0, 1.6, 0.1, 0.4, 2.3,
  0.2, 2.3, 0.0, 1.5, -0.9, 1.7, 0.1, 2.3, 0.0, 1.5,
  -0.5, 2.3, -0.8, 2.1, -0.5, 0.0, null, null, null, null,
  0.0, 0.05, 0.1, -0.1, 1.8, -1.0, 1.6, -1.2, 0.3, 0.2,
  1.9, -1.2, 1.8, 0.0, 0.1, 1.8, -0.1];
const g19_d4_vae_lo = [
  null, null, null, -1.3, -1.9, -1.2, -1.5, -1.4, -1.6, -1.2,
  -1.5, -1.3, -1.6, -1.4, -1.2, -1.6, -1.5, -1.3, -1.7, -1.4,
  -1.5, -1.2, -1.6, -1.4, -1.3, -1.7, -1.5, -1.2, -1.4, -1.6,
  -1.3, -1.5, -1.8, -1.4, -1.3, -1.6, -1.2, -1.5, -1.7, -1.4,
  -1.3, -1.6, -1.9, -1.4, -1.5, -1.2, -1.6, -1.3, -1.5, -1.4,
  -1.6, -1.3, -1.5, -1.4, -1.6, -1.5, null, null, null, null,
  -1.6, -1.55, -1.5, -1.5, -1.9, -1.4, -1.2, -1.6, -1.5, -1.3,
  -1.6, -1.5, -1.7, -1.6, -1.5, -1.6, -1.4];
const g19_d4_vae_hi = [
  null, null, null, 1.9, 1.8, 1.95, 1.7, 1.85, 1.9, 1.75,
  1.8, 1.9, 1.7, 1.85, 1.95, 1.8, 1.7, 1.9, 1.85, 1.75,
  1.8, 1.9, 1.95, 1.7, 1.85, 1.8, 1.9, 1.75, 1.85, 1.95,
  1.8, 1.7, 1.9, 1.85, 1.8, 1.75, 1.9, 1.95, 1.8, 1.85,
  1.9, 1.75, 1.8, 1.95, 1.85, 1.7, 1.9, 1.8, 1.85, 1.75,
  1.9, 1.8, 1.85, 1.7, 1.8, 1.75, null, null, null, null,
  1.65, 1.65, 1.7, 1.75, 2.0, 1.8, 1.7, 1.9, 1.6, 1.75,
  2.0, 1.7, 1.85, 1.7, 1.6, 1.75, 1.7];

// [group index, dim index, model, mean values, sample step, ribbon half width or {lo, hi}]
const seriesTable = [
  [0, 0, "CVAE", g2_d1_cvae, fineStep, 0.15], [0, 0, "VAE", g2_d1_vae, fineStep, 0.15],
  [0, 1, "CVAE", g2_d2_cvae, fineStep, 0.6],  [0, 1, "VAE", g2_d2_vae, fineStep, 0.55],
  [0, 2, "CVAE", g2_d3_cvae, fineStep, 1.6],  [0, 2, "VAE", g2_d3_vae, fineStep, 1.0],
  [0, 3, "VAE", g2_d4_vae, sampleStep, 1.6],
  [1, 0, "CVAE", g6_d1_cvae, fineStep, 0.15], [1, 0, "VAE", g6_d1_vae, fineStep, 0.15],
  [1, 1, "CVAE", g6_d2_cvae, fineStep, 0.3],  [1, 1, "VAE", g6_d2_vae, fineStep, 0.3],
  [1, 2, "CVAE", g6_d3_cvae, fineStep, 0.55], [1, 2, "VAE", g6_d3_vae, fineStep, 0.45],
  [1, 3, "VAE", g6_d4_vae, sampleStep, {lo: g6_d4_vae_lo, hi: g6_d4_vae_hi}],
  [2, 0, "CVAE", g19_d1_cvae, sampleStep, 0.2], [2, 0, "VAE", g19_d1_vae, sampleStep, 0.2],
  [2, 1, "CVAE", g19_d2_cvae, sampleStep, 0.35], [2, 1, "VAE", g19_d2_vae, sampleStep, 0.35],
  [2, 2, "CVAE", g19_d3_cvae, sampleStep, 0.8], [2, 2, "VAE", g19_d3_vae, sampleStep, 0.7],
  [2, 3, "VAE", g19_d4_vae, sampleStep, {lo: g19_d4_vae_lo, hi: g19_d4_vae_hi}]
].map(([group, dim, model, mu, step, band]) => ({group, dim, model, mu, step, band}));

// ---------------- layout ----------------
// layout is designed on a 4800 x 2100 grid and stretched to the real window
const W = window.innerWidth || 4800, H = window.innerHeight || 2100;
const sx = W / 4800, sy = H / 2100;
const panelLefts = [270, 1714, 3159].map(v => v * sx);
const rowTops = [201, 621, 1041, 1460].map(v => v * sy);
const panelW = 1028 * sx, panelH = 376 * sy, stripW = 128 * sx;
const modelColor = {CVAE: "#FF6347", VAE: "#4682B4"};
const modelDash = {CVAE: null, VAE: "9,8"};

// decimal year -> Date
function toDate(yr) {
  const y = Math.floor(yr);
  const a = Date.UTC(y, 0, 1), b = Date.UTC(y + 1, 0, 1);
  return new Date(a + (yr - y) * (b - a));
}

const x = d3.scaleTime().domain([toDate(2013.75), toDate(2019.25)]).range([0, panelW]);
const y = d3.scaleLinear().domain([-2.73, 2.73]).range([panelH, 0]);

const svg = d3.select("#chart").attr("width", W).attr("height", H);
svg.append("rect").attr("width", W).attr("height", H).attr("fill", "#fff");

function toPoints(s) {
  const start = groupStart[s.group];
  return s.mu.map((v, i) => {
    let lo, hi;
    if (typeof s.band === "number") { lo = v - s.band; hi = v + s.band; }
    else { lo = s.band.lo[i]; hi = s.band.hi[i]; }
    return {t: toDate(start + i * s.step), v: v, lo: lo, hi: hi};
  });
}

const area = d3.area()
  .defined(d => d.v != null && d.lo != null && d.hi != null)
  .x(d => x(d.t)).y0(d => y(d.lo)).y1(d => y(d.hi));
const line = d3.line()
  .defined(d => d.v != null)
  .x(d => x(d.t)).y(d => y(d.v));

groups.forEach((gName, gi) => {
  // group title
  svg.append("text")
    .attr("x", panelLefts[gi] - 2).attr("y", 137 * sy)
    .style("font-size", "100px").attr("fill", "#000")
    .text(gName);

  dims.forEach((dName, di) => {
    const g = svg.append("g")
      .attr("transform", `translate(${panelLefts[gi]},${rowTops[di]})`);
    const clipId = `clip-${gi}-${di}`;
    g.append("clipPath").attr("id", clipId)
      .append("rect").attr("width", panelW).attr("height", panelH);

    g.append("rect").attr("width", panelW).attr("height", panelH).attr("fill", "#fff");

    // grid: minor then major
    const grid = g.append("g").attr("clip-path", `url(#${clipId})`);
    grid.selectAll(".hminor").data(yMinor).join("line")
      .attr("x1", 0).attr("x2", panelW).attr("y1", d => y(d)).attr("y2", d => y(d))
      .attr("stroke", "#EBEBEB").attr("stroke-width", 3.5);
    grid.selectAll(".vminor").data(xMinorYears).join("line")
      .attr("y1", 0).attr("y2", panelH).attr("x1", d => x(toDate(d))).attr("x2", d => x(toDate(d)))
      .attr("stroke", "#EBEBEB").attr("stroke-width", 3.5);
    grid.selectAll(".hmajor").data(yTicks).join("line")
      .attr("x1", 0).attr("x2", panelW).attr("y1", d => y(d)).attr("y2", d => y(d))
      .attr("stroke", "#EBEBEB").attr("stroke-width", 7);
    grid.selectAll(".vmajor").data(xTickYears).join("line")
      .attr("y1", 0).attr("y2", panelH).attr("x1", d => x(toDate(d))).attr("x2", d => x(toDate(d)))
      .attr("stroke", "#EBEBEB").attr("stroke-width", 7);

    // data: ribbons first, then lines (CVAE then VAE)
    const plot = g.append("g").attr("clip-path", `url(#${clipId})`);
    const here = seriesTable.filter(s => s.group === gi && s.dim === di);
    here.forEach(s => {
      plot.append("path").datum(toPoints(s))
        .attr("d", area)
        .attr("fill", modelColor[s.model]).attr("fill-opacity", 0.3);
    });
    here.forEach(s => {
      plot.append("path").datum(toPoints(s))
        .attr("d", line)
        .attr("fill", "none")
        .attr("stroke", modelColor[s.model]).attr("stroke-opacity", 0.85)
        .attr("stroke-width", 4.5)
        .attr("stroke-linejoin", "round")
        .attr("stroke-dasharray", modelDash[s.model]);
    });

    // panel border
    g.append("rect")
      .attr("x", 1.75).attr("y", 1.75)
      .attr("width", panelW - 3.5).attr("height", panelH - 3.5)
      .attr("fill", "none").attr("stroke", "#333333").attr("stroke-width", 3.5);

    // strip
    g.append("rect")
      .attr("x", panelW + 1.75).attr("y", 1.75)
      .attr("width", stripW - 3.5).attr("height", panelH - 3.5)
      .attr("fill", "#D9D9D9").attr("stroke", "#333333").attr("stroke-width", 3.5);
    g.append("text")
      .attr("transform", `translate(${panelW + stripW / 2},${panelH / 2}) rotate(90)`)
      .attr("text-anchor", "middle").attr("dominant-baseline", "central")
      .style("font-size", "64px").attr("fill", "#1A1A1A")
      .text(dName);

    // y axis
    const yAxisG = g.append("g")
      .call(d3.axisLeft(y).tickValues(yTicks).tickSize(22).tickPadding(22).tickFormat(d => String(d)));
    yAxisG.select(".domain").remove();
    yAxisG.selectAll(".tick line").attr("stroke", "#333333").attr("stroke-width", 7);
    yAxisG.selectAll(".tick text").style("font-size", "59px").attr("fill", "#4D4D4D")
      .style("font-family", "DejaVu Sans");

    // x axis on bottom row
    if (di === dims.length - 1) {
      const xAxisG = g.append("g").attr("transform", `translate(0,${panelH})`)
        .call(d3.axisBottom(x).tickValues(xTickYears.map(toDate)).tickSize(22).tickPadding(17)
          .tickFormat(d3.utcFormat("%Y")));
      xAxisG.select(".domain").remove();
      xAxisG.selectAll(".tick line").attr("stroke", "#333333").attr("stroke-width", 7);
      xAxisG.selectAll(".tick text").style("font-size", "64px").attr("fill", "#4D4D4D")
        .style("font-family", "DejaVu Sans");
    }
  });
});

// axis titles
svg.append("text")
  .attr("x", panelLefts[1] + panelW / 2).attr("y", 2018 * sy)
  .attr("text-anchor", "middle").style("font-size", "83px").attr("fill", "#000")
  .text("time");
svg.append("text")
  .attr("transform", `translate(${93 * sx},${(rowTops[0] + rowTops[3] + panelH) / 2}) rotate(-90)`)
  .attr("text-anchor", "middle").attr("dominant-baseline", "central")
  .style("font-size", "83px").attr("fill", "#000")
  .text("Z");

// legend
const legend = svg.append("g").attr("transform", `translate(${4405 * sx},${957 * sy})`);
legend.append("text").attr("x", 3).attr("y", 0)
  .style("font-size", "83px").attr("fill", "#000").text("model");
models.forEach((m, i) => {
  const ky = 49 + i * 72;
  legend.append("rect").attr("x", 0).attr("y", ky).attr("width", 72).attr("height", 72)
    .attr("fill", modelColor[m]).attr("fill-opacity", 0.3);
  legend.append("line").attr("x1", 7).attr("x2", 65).attr("y1", ky + 36).attr("y2", ky + 36)
    .attr("stroke", modelColor[m]).attr("stroke-opacity", 0.85).attr("stroke-width", 4.5)
    .attr("stroke-dasharray", modelDash[m]);
  legend.append("text").attr("x", 100).attr("y", ky + 36)
    .attr("dominant-baseline", "central")
    .style("font-size", "64px").attr("fill", "#000").text(m);
});
</script>
</body>
</html>
